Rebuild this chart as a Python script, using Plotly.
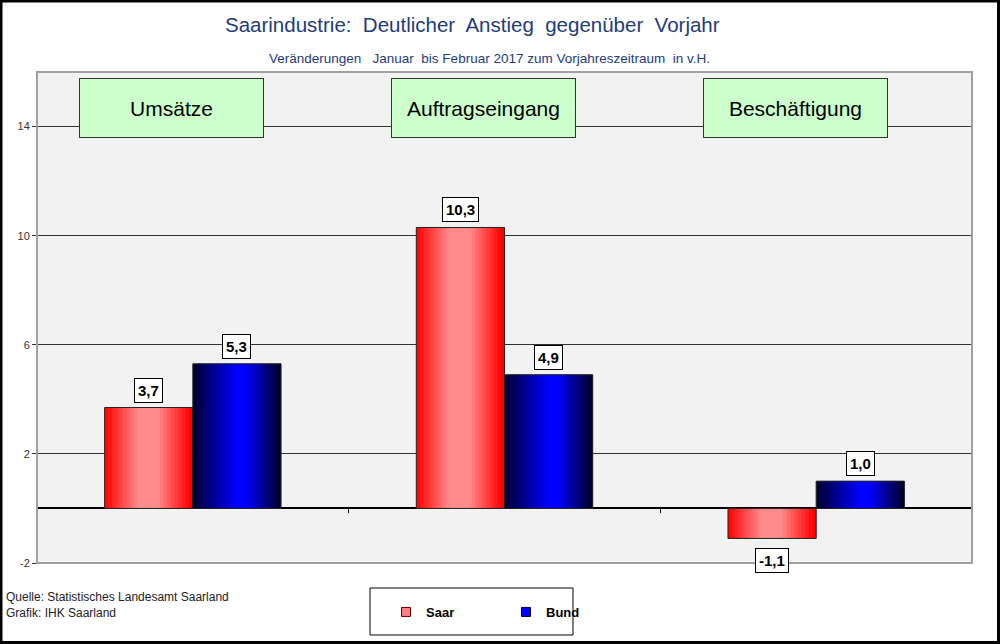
import plotly.graph_objects as go

# Daten
categories = ["Umsätze", "Auftragseingang", "Beschäftigung"]
saar = [3.7, 10.3, -1.1]
bund = [5.3, 4.9, 1.0]
series_names = ["Saar", "Bund"]
y_ticks = [-2, 2, 6, 10, 14]

FONT = "Arial, Liberation Sans, sans-serif"
TITLE_BLUE = "#1f3c7c"

# Plotfläche in Pixeln: x 37..972, y 72..563
W, H = 1000, 644
ML, MR, MT, MB = 37, 28, 72, 81
PW, PH = W - ML - MR, H - MT - MB


def px_x(x):
    return (x - ML) / PW


def px_y(y):
    return (H - MB - y) / PH


def mix(c1, c2, p):
    return "rgb(%d,%d,%d)" % tuple(round(a + (b - a) * p) for a, b in zip(c1, c2))


def red_profile(t):
    # hell in der Mitte-links, rot an den Rändern
    if t < 0.38:
        return t / 0.38
    if t < 0.6:
        return 1.0
    return max(0.0, (0.97 - t) / 0.37)


def blue_profile(t):
    if t < 0.5:
        return t / 0.5
    if t < 0.6:
        return 1.0
    return max(0.0, (0.98 - t) / 0.38)


x_pos = list(range(len(categories)))
bar_w = 0.283
n_slices = 24
slice_w = bar_w / n_slices

fig = go.Figure()

gradients = {
    "Saar": ((255, 0, 0), (255, 140, 140), red_profile, -bar_w),
    "Bund": ((0, 0, 45), (0, 0, 255), blue_profile, 0.0),
}

for name, values in zip(series_names, [saar, bund]):
    c_dark, c_light, prof, off = gradients[name]
    for i in range(n_slices):
        t = (i + 0.5) / n_slices
        fig.add_trace(
            go.Bar(
                x=x_pos,
                y=values,
                offset=off + i * slice_w,
                width=min(2 * slice_w, bar_w - i * slice_w),
                marker=dict(color=mix(c_dark, c_light, prof(t)), line=dict(width=0)),
                showlegend=False,
                hoverinfo="skip",
            )
        )
    # Rahmen
    fig.add_trace(
        go.Bar(
            x=x_pos,
            y=values,
            offset=off,
            width=bar_w,
            marker=dict(color="rgba(0,0,0,0)", line=dict(width=1, color="#222222")),
            showlegend=False,
            name=name,
        )
    )

# Legende
fig.add_trace(go.Scatter(x=[None], y=[None], mode="markers", name="Saar",
                         marker=dict(symbol="square", size=9, color="#ff8080",
                                     line=dict(width=1, color="#600000"))))
fig.add_trace(go.Scatter(x=[None], y=[None], mode="markers", name="Bund",
                         marker=dict(symbol="square", size=9, color="#0000ff",
                                     line=dict(width=1, color="#000040"))))

annotations = []

# Werte-Beschriftung
for name, values, dx in [("Saar", saar, -bar_w / 2), ("Bund", bund, bar_w / 2)]:
    for xi, v in zip(x_pos, values):
        annotations.append(dict(
            x=xi + dx, y=v, xref="x", yref="y",
            text="<b>%s</b>" % f"{v:.1f}".replace(".", ","),
            showarrow=False,
            xanchor="center",
            yanchor="bottom" if v >= 0 else "top",
            yshift=5 if v >= 0 else -10,
            font=dict(family=FONT, size=15, color="black"),
            bgcolor="white", bordercolor="black", borderwidth=1, borderpad=3,
        ))

# Kategorie-Boxen
for xi, cat in zip(x_pos, categories):
    annotations.append(dict(
        x=xi, y=px_y(108), xref="x", yref="paper",
        xanchor="center", yanchor="middle",
        text=cat, showarrow=False, xshift=-21,
        width=181, height=56,
        font=dict(family=FONT, size=21, color="black"),
        bgcolor="#ccffcc", bordercolor="#333333", borderwidth=1,
    ))

# Titel
annotations.append(dict(
    x=px_x(472), y=px_y(25), xref="paper", yref="paper",
    xanchor="center", yanchor="middle",
    text="Saarindustrie:\u00a0 Deutlicher\u00a0 Anstieg\u00a0 gegenüber\u00a0 Vorjahr",
    showarrow=False, font=dict(family=FONT, size=20.5, color=TITLE_BLUE),
))
annotations.append(dict(
    x=px_x(489), y=px_y(58), xref="paper", yref="paper",
    xanchor="center", yanchor="middle",
    text="Veränderungen\u00a0\u00a0 Januar\u00a0 bis Februar 2017 zum Vorjahreszeitraum\u00a0 in v.H.",
    showarrow=False, font=dict(family=FONT, size=13.5, color=TITLE_BLUE),
))

# Quelle
annotations.append(dict(
    x=px_x(4), y=px_y(605), xref="paper", yref="paper",
    text="Quelle: Statistisches Landesamt Saarland<br>Grafik: IHK Saarland",
    showarrow=False, xanchor="left", yanchor="middle", align="left",
    font=dict(family=FONT, size=12, color="#222222"),
))

shapes = [
    # Rahmen der Plotfläche
    dict(type="rect", xref="x domain", yref="y domain", x0=0, x1=1, y0=0, y1=1,
         line=dict(color="#a0a0a0", width=2), layer="above"),
    # Legendenrahmen
    dict(type="rect", xref="paper", yref="paper",
         x0=px_x(370), x1=px_x(573), y0=px_y(635), y1=px_y(588),
         line=dict(color="black", width=1)),
    # Außenrahmen
    dict(type="rect", xref="paper", yref="paper",
         x0=px_x(1), x1=px_x(998.5), y0=px_y(642.5), y1=px_y(1),
         line=dict(color="black", width=3)),
]

fig.update_layout(
    width=W, height=H,
    margin=dict(l=ML, r=MR, t=MT, b=MB, autoexpand=False),
    paper_bgcolor="white",
    plot_bgcolor="#f2f2f2",
    barmode="overlay",
    font=dict(family=FONT, size=11, color="#333333"),
    annotations=annotations,
    shapes=shapes,
    legend=dict(
        orientation="h", x=px_x(386), y=px_y(612), xanchor="left", yanchor="middle",
        font=dict(family=FONT, size=13, color="black", weight="bold"),
        bgcolor="rgba(0,0,0,0)", borderwidth=0,
        entrywidth=75, entrywidthmode="pixels", itemwidth=30,
    ),
    showlegend=True,
)

fig.update_xaxes(
    range=[-0.5, len(categories) - 0.5],
    anchor="free", position=2 / 18,
    tickvals=[0.5, 1.5], ticks="outside", ticklen=4, tickcolor="black",
    showticklabels=False, showline=False, showgrid=False, zeroline=False,
)
fig.update_yaxes(
    range=[-2, 16], domain=[0, 1],
    tickvals=y_ticks, ticktext=[str(v) for v in y_ticks],
    ticks="outside", ticklen=4, tickcolor="#333333",
    showline=True, linecolor="#333333", linewidth=1,
    showgrid=True, gridcolor="#333333", gridwidth=1,
    zeroline=True, zerolinecolor="black", zerolinewidth=1.5,
    tickfont=dict(family=FONT, size=11, color="#333333"),
)

fig.write_html("out.html", config={"displayModeBar": False},
               post_script="document.body.style.margin='0';")
